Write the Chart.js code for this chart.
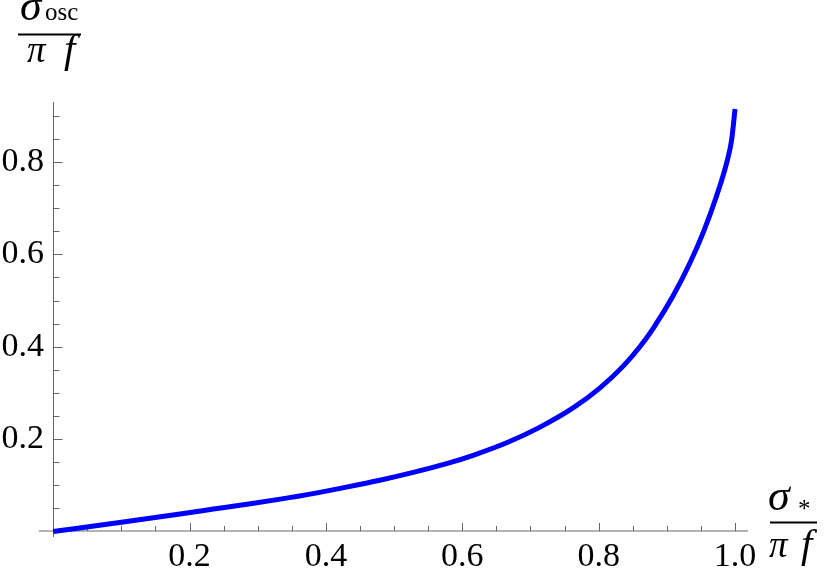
<!DOCTYPE html>
<html lang="en">
<head>
<meta charset="UTF-8">
<title>sigma_osc vs sigma_*</title>
<script src="https://cdn.jsdelivr.net/npm/chart.js"></script>
<style>
  html, body { margin: 0; padding: 0; background: #fff; }
</style>
</head>
<body>
<canvas id="oscChart" width="830" height="582"></canvas>
<script>
// curve values (x = sigma_* / pi f, y = sigma_osc / pi f)
const sigmaStar = [0, 0.1, 0.186, 0.235, 0.284, 0.333, 0.381, 0.430, 0.479, 0.528, 0.577, 0.616, 0.665, 0.714, 0.763, 0.802, 0.836, 0.861, 0.880, 0.909, 0.934, 0.954, 0.973, 0.988, 0.995, 1.0];
const sigmaOsc = [0, 0.020, 0.038, 0.0485, 0.059, 0.070, 0.082, 0.096, 0.111, 0.128, 0.147, 0.165, 0.192, 0.226, 0.268, 0.311, 0.358, 0.401, 0.440, 0.510, 0.582, 0.650, 0.727, 0.800, 0.848, 0.915];

// axes
const xRange = [-0.021, 1.019];   // extent of the drawn x axis line
const xScaleMin = -0.0135;        // left edge of the plot area
const yRange = [-0.012, 0.93];
const xMajor = [0.2, 0.4, 0.6, 0.8, 1.0];
const yMajor = [0.2, 0.4, 0.6, 0.8];
const xMinor = [0.05, 0.1, 0.15, 0.25, 0.3, 0.35, 0.45, 0.5, 0.55, 0.65, 0.7, 0.75, 0.85, 0.9, 0.95];
const yMinor = [0.05, 0.1, 0.15, 0.25, 0.3, 0.35, 0.45, 0.5, 0.55, 0.65, 0.7, 0.75, 0.85, 0.9];

const serif = '"Liberation Serif", "DejaVu Serif", serif';

// axes through the origin with inward ticks (Mathematica style)
const originAxes = {
    id: 'originAxes',
    beforeDatasetsDraw(chart) {
        const ctx = chart.ctx;
        const sx = chart.scales.x, sy = chart.scales.y;
        const x0 = Math.round(sx.getPixelForValue(0)) + 0.5;
        const y0 = Math.round(sy.getPixelForValue(0));
        ctx.save();
        ctx.strokeStyle = '#666';
        ctx.lineWidth = 1;
        ctx.beginPath();
        ctx.moveTo(sx.getPixelForValue(xRange[0]), y0);
        ctx.lineTo(sx.getPixelForValue(xRange[1]), y0);
        ctx.moveTo(x0, sy.getPixelForValue(yRange[0]));
        ctx.lineTo(x0, sy.getPixelForValue(yRange[1]));
        // x ticks
        xMajor.forEach(v => {
            const px = Math.round(sx.getPixelForValue(v)) + 0.5;
            ctx.moveTo(px, y0); ctx.lineTo(px, y0 - 8);
        });
        xMinor.forEach(v => {
            const px = Math.round(sx.getPixelForValue(v)) + 0.5;
            ctx.moveTo(px, y0); ctx.lineTo(px, y0 - 5);
        });
        // y ticks
        yMajor.forEach(v => {
            const py = Math.round(sy.getPixelForValue(v)) + 0.5;
            ctx.moveTo(x0, py); ctx.lineTo(x0 + 9, py);
        });
        yMinor.forEach(v => {
            const py = Math.round(sy.getPixelForValue(v)) + 0.5;
            ctx.moveTo(x0, py); ctx.lineTo(x0 + 6, py);
        });
        ctx.stroke();
        ctx.restore();
    },
    afterDraw(chart) {
        const ctx = chart.ctx;
        ctx.save();
        ctx.fillStyle = '#000';
        ctx.textAlign = 'left';
        ctx.textBaseline = 'alphabetic';
        // y axis label: sigma_osc / (pi f)
        ctx.font = 'italic 44px ' + serif;
        ctx.fillText('σ', 20, 20);
        ctx.font = '25px ' + serif;
        ctx.fillText('osc', 45, 20);
        ctx.fillRect(18, 33.5, 63, 2);
        ctx.font = 'italic 37px ' + serif;
        ctx.fillText('π', 27, 62);
        ctx.font = 'italic 41px ' + serif;
        ctx.fillText('f', 64, 62);
        // x axis label: sigma_* / (pi f)
        ctx.font = 'italic 44px ' + serif;
        ctx.fillText('σ', 768, 510);
        ctx.font = '25px ' + serif;
        ctx.fillText('*', 798, 517);
        ctx.fillRect(770, 521.5, 47, 2);
        ctx.font = 'italic 37px ' + serif;
        ctx.fillText('π', 769, 557);
        ctx.font = 'italic 41px ' + serif;
        ctx.fillText('f', 801, 557);
        ctx.restore();
    }
};

const ctx = document.getElementById('oscChart').getContext('2d');
new Chart(ctx, {
    type: 'scatter',
    data: {
        datasets: [{
            data: sigmaStar.map((x, i) => ({ x: x, y: sigmaOsc[i] })),
            showLine: true,
            borderColor: '#0000ff',
            borderWidth: 5,
            pointRadius: 0,
            cubicInterpolationMode: 'monotone',
            clip: false
        }]
    },
    options: {
        responsive: false,
        animation: false,
        devicePixelRatio: 1,
        layout: { padding: { top: 102, right: 82, left: 0, bottom: 0 } },
        plugins: { legend: { display: false }, tooltip: { enabled: false } },
        scales: {
            x: {
                type: 'linear',
                position: 'bottom',
                min: xScaleMin,
                max: xRange[1],
                grid: { display: false, drawTicks: false },
                border: { display: false },
                afterBuildTicks: s => { s.ticks = xMajor.map(v => ({ value: v })); },
                afterFit: s => { s.height = 45; },
                ticks: {
                    autoSkip: false,
                    maxRotation: 0,
                    padding: 0,
                    color: '#000',
                    font: { family: serif, size: 34 },
                    callback: v => v.toFixed(1)
                }
            },
            y: {
                type: 'linear',
                position: 'left',
                min: yRange[0],
                max: yRange[1],
                grid: { display: false, drawTicks: false },
                border: { display: false },
                afterBuildTicks: s => { s.ticks = yMajor.map(v => ({ value: v })); },
                afterFit: s => { s.width = 44; },
                ticks: {
                    autoSkip: false,
                    padding: 0,
                    color: '#000',
                    font: { family: serif, size: 34 },
                    callback: v => v.toFixed(1)
                }
            }
        }
    },
    plugins: [originAxes]
});
</script>
</body>
</html>
